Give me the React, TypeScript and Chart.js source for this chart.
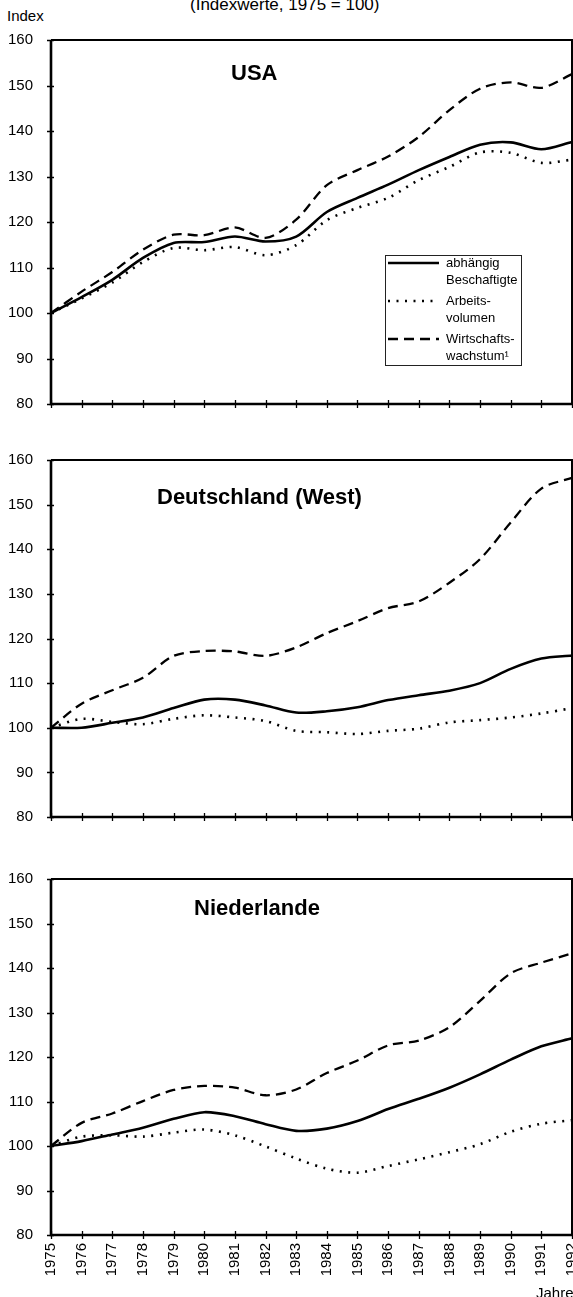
import React, { useEffect, useRef } from 'react';
import { Chart, registerables } from 'chart.js';

Chart.register(...registerables);

const FONT = "'Liberation Sans', Arial, Helvetica, sans-serif";

const years = ['1975', '1976', '1977', '1978', '1979', '1980', '1981', '1982', '1983', '1984', '1985', '1986', '1987', '1988', '1989', '1990', '1991', '1992'];
const yTickValues = [80, 90, 100, 110, 120, 130, 140, 150, 160];

const seriesNames = ['abhängig Beschaftigte', 'Arbeitsvolumen', 'Wirtschaftswachstum¹'];
const legendLines = [['abhängig', 'Beschaftigte'], ['Arbeits-', 'volumen'], ['Wirtschafts-', 'wachstum¹']];

const panelTitles = ['USA', 'Deutschland (West)', 'Niederlande'];

// USA
const usaBeschaeftigte = [100, 103.5, 107.3, 112.1, 115.4, 115.6, 116.8, 115.7, 116.8, 122.2, 125.3, 128.2, 131.4, 134.3, 137.0, 137.5, 136.0, 137.6];
const usaArbeitsvolumen = [100, 103.2, 106.7, 111.2, 114.3, 113.8, 114.5, 112.7, 114.9, 120.4, 123.1, 125.3, 129.2, 132.1, 135.3, 135.2, 133.0, 133.7];
const usaWachstum = [100, 104.7, 109.0, 113.9, 117.2, 117.1, 118.8, 116.5, 120.5, 128.1, 131.4, 134.4, 138.7, 144.6, 149.3, 150.7, 149.5, 152.5];

// Deutschland (West)
const deBeschaeftigte = [100, 100, 101.1, 102.3, 104.4, 106.3, 106.3, 105.0, 103.4, 103.7, 104.6, 106.2, 107.3, 108.3, 110.0, 113.2, 115.5, 116.2];
const deArbeitsvolumen = [100, 102.0, 101.3, 100.8, 102.0, 102.8, 102.3, 101.5, 99.3, 99.0, 98.6, 99.3, 99.8, 101.2, 101.7, 102.3, 103.2, 104.4];
const deWachstum = [100, 105.4, 108.4, 111.2, 116.1, 117.2, 117.1, 116.1, 118.0, 121.2, 123.9, 126.8, 128.3, 132.5, 137.8, 146.0, 153.6, 156.0];

// Niederlande
const nlBeschaeftigte = [100, 101.1, 102.6, 104.1, 106.1, 107.6, 106.7, 104.9, 103.4, 103.9, 105.6, 108.3, 110.6, 113.1, 116.1, 119.4, 122.4, 124.2];
const nlArbeitsvolumen = [100, 102.1, 102.4, 102.1, 103.0, 103.7, 102.4, 99.9, 97.2, 94.9, 94.0, 95.5, 97.0, 98.6, 100.4, 103.2, 105.0, 105.8];
const nlWachstum = [100, 105.2, 107.3, 110.1, 112.6, 113.5, 113.1, 111.4, 112.7, 116.4, 119.2, 122.6, 123.7, 126.7, 132.6, 138.8, 141.2, 143.3];

const seriesStyles = [
  { borderWidth: 2.6, borderDash: [] as number[] },
  { borderWidth: 2.6, borderDash: [2, 6.5] },
  { borderWidth: 2.3, borderDash: [10, 6] },
];

type PanelProps = {
  top: number;
  height: number;
  padTop: number;
  axisH: number;
  title: string;
  titleDx: number;
  titleDy: number;
  showX: boolean;
  showLegend: boolean;
  values: number[][];
};

function Panel(props: PanelProps) {
  const ref = useRef<HTMLCanvasElement>(null);
  useEffect(() => {
    const framePlugin = {
      id: 'frame',
      afterDraw(chart: any) {
        const { ctx, chartArea, scales } = chart;
        const { left, top, right, bottom } = chartArea;
        ctx.save();
        ctx.strokeStyle = '#000';
        ctx.setLineDash([]);
        // top & right (thinner)
        ctx.lineWidth = 2;
        ctx.beginPath();
        ctx.moveTo(left, top);
        ctx.lineTo(right, top);
        ctx.lineTo(right, bottom);
        ctx.stroke();
        // left & bottom (thicker)
        ctx.lineWidth = 2.6;
        ctx.beginPath();
        ctx.moveTo(left, top);
        ctx.lineTo(left, bottom);
        ctx.lineTo(right, bottom);
        ctx.stroke();
        // tick marks
        ctx.lineWidth = 1.3;
        ctx.beginPath();
        scales.y.ticks.forEach((t: any) => {
          const py = Math.round(scales.y.getPixelForValue(t.value)) + 0.5;
          ctx.moveTo(left - 4, py);
          ctx.lineTo(left + 3, py);
        });
        years.forEach((_, i) => {
          const px = Math.round(scales.x.getPixelForValue(i)) + 0.5;
          ctx.moveTo(px, bottom - 4);
          ctx.lineTo(px, bottom + 4);
        });
        ctx.stroke();
        // panel title
        ctx.fillStyle = '#000';
        ctx.font = `bold 22px ${FONT}`;
        ctx.textAlign = 'left';
        ctx.textBaseline = 'alphabetic';
        ctx.fillText(props.title, left + props.titleDx, top + props.titleDy);
        // legend
        if (props.showLegend) {
          const bx = left + 334;
          const by = top + 215;
          const bw = 136;
          const bh = 110;
          ctx.lineWidth = 1;
          ctx.strokeStyle = '#222';
          ctx.strokeRect(bx + 0.5, by + 0.5, bw, bh);
          ctx.font = `13px ${FONT}`;
          ctx.textBaseline = 'middle';
          ctx.fillStyle = '#000';
          legendLines.forEach((lines, k) => {
            const ly = by + 8 + k * 38;
            const st = seriesStyles[k];
            ctx.strokeStyle = '#000';
            ctx.lineWidth = st.borderWidth;
            ctx.setLineDash(st.borderDash);
            ctx.beginPath();
            ctx.moveTo(bx + 3, ly);
            ctx.lineTo(bx + 54, ly);
            ctx.stroke();
            ctx.setLineDash([]);
            ctx.fillText(lines[0], bx + 61, ly);
            ctx.fillText(lines[1], bx + 61, ly + 17);
          });
        }
        ctx.restore();
      },
    };

    const chart = new Chart(ref.current!, {
      type: 'line',
      data: {
        labels: years,
        datasets: props.values.map((vals, k) => ({
          label: seriesNames[k],
          data: vals,
          borderColor: '#000',
          backgroundColor: '#000',
          borderWidth: seriesStyles[k].borderWidth,
          borderDash: seriesStyles[k].borderDash,
          borderCapStyle: 'butt',
          tension: 0.3,
          pointRadius: 0,
          fill: false,
        })),
      },
      options: {
        animation: false,
        responsive: false,
        maintainAspectRatio: false,
        devicePixelRatio: 1,
        layout: { padding: { top: props.padTop, right: 1, left: 0, bottom: 0 } },
        plugins: { legend: { display: false }, tooltip: { enabled: false }, title: { display: false } },
        scales: {
          x: {
            type: 'category',
            offset: false,
            grid: { display: false, drawTicks: false },
            border: { display: false },
            ticks: {
              display: props.showX,
              autoSkip: false,
              minRotation: 90,
              maxRotation: 90,
              padding: 8,
              color: '#000',
              font: { family: FONT, size: 15 },
            },
            afterFit: (s: any) => {
              s.height = props.axisH;
              s.paddingLeft = 0;
              s.paddingRight = 0;
            },
          },
          y: {
            min: 80,
            max: 160,
            afterBuildTicks: (s: any) => {
              s.ticks = yTickValues.map((v) => ({ value: v }));
            },
            grid: { display: false, drawTicks: false },
            border: { display: false },
            ticks: {
              padding: 18,
              color: '#000',
              font: { family: FONT, size: 15 },
            },
            afterFit: (s: any) => {
              s.width = 51;
              s.paddingTop = 0;
              s.paddingBottom = 0;
            },
          },
        },
      } as any,
      plugins: [framePlugin],
    });
    return () => chart.destroy();
  }, []);
  return (
    <canvas
      ref={ref}
      width={573}
      height={props.height}
      style={{ position: 'absolute', left: 0, top: props.top, width: 573, height: props.height }}
    />
  );
}

const textStyle: React.CSSProperties = {
  position: 'absolute',
  fontFamily: FONT,
  color: '#000',
  whiteSpace: 'nowrap',
};

export default function App() {
  return (
    <div style={{ position: 'absolute', left: 0, top: 0, width: 573, height: 1297, background: '#fff', overflow: 'hidden' }}>
      <div style={{ ...textStyle, left: 190, top: -4, fontSize: 17, lineHeight: '17px' }}>(Indexwerte, 1975 = 100)</div>
      <div style={{ ...textStyle, left: 7, top: 8, fontSize: 15, lineHeight: '15px' }}>Index</div>
      <Panel
        top={0}
        height={420}
        padTop={40}
        axisH={16}
        title={panelTitles[0]}
        titleDx={180}
        titleDy={40}
        showX={false}
        showLegend={true}
        values={[usaBeschaeftigte, usaArbeitsvolumen, usaWachstum]}
      />
      <Panel
        top={420}
        height={420}
        padTop={40}
        axisH={23}
        title={panelTitles[1]}
        titleDx={106}
        titleDy={44}
        showX={false}
        showLegend={false}
        values={[deBeschaeftigte, deArbeitsvolumen, deWachstum]}
      />
      <Panel
        top={840}
        height={457}
        padTop={39}
        axisH={62}
        title={panelTitles[2]}
        titleDx={143}
        titleDy={36}
        showX={true}
        showLegend={false}
        values={[nlBeschaeftigte, nlArbeitsvolumen, nlWachstum]}
      />
      <div style={{ ...textStyle, left: 536, top: 1285, fontSize: 15, lineHeight: '15px' }}>Jahre</div>
    </div>
  );
}
